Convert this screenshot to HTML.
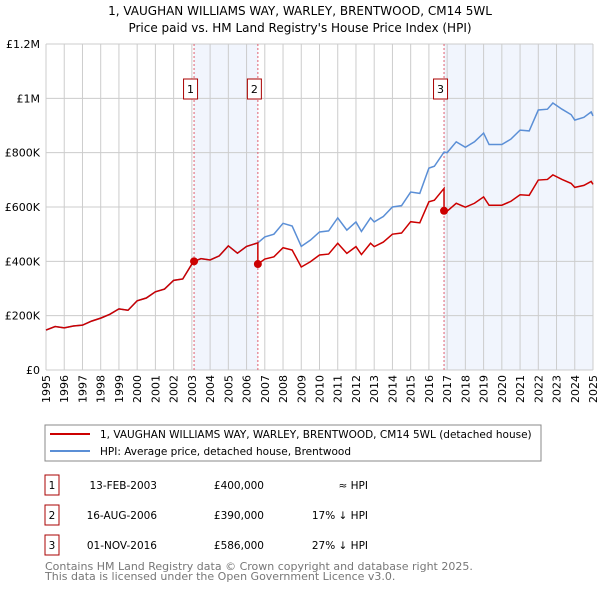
<!DOCTYPE html>
<html><head><meta charset="utf-8">
<style>
body{margin:0;background:#fff;width:600px;height:590px;overflow:hidden;font-family:"DejaVu Sans","Liberation Sans",sans-serif;}
svg text{font-family:"DejaVu Sans","Liberation Sans",sans-serif;}
</style></head>
<body>
<svg id="chart" width="600" height="590" xmlns="http://www.w3.org/2000/svg">
<text x="300" y="15" text-anchor="middle" font-size="12" fill="#000">1, VAUGHAN WILLIAMS WAY, WARLEY, BRENTWOOD, CM14 5WL</text>
<text x="300" y="32" text-anchor="middle" font-size="12" fill="#000">Price paid vs. HM Land Registry's House Price Index (HPI)</text>
<g id="plot"></g>
<rect x="45" y="425" width="496" height="36" fill="#fff" stroke="#888"/>
<line x1="50" y1="434" x2="90" y2="434" stroke="#cc0000" stroke-width="2"/>
<text x="100" y="438" font-size="10.5">1, VAUGHAN WILLIAMS WAY, WARLEY, BRENTWOOD, CM14 5WL (detached house)</text>
<line x1="50" y1="451" x2="90" y2="451" stroke="#5b8fd6" stroke-width="2"/>
<text x="100" y="455" font-size="10.5">HPI: Average price, detached house, Brentwood</text>
<g id="table"></g>
<text x="45" y="570" font-size="11" fill="#777">Contains HM Land Registry data © Crown copyright and database right 2025.</text>
<text x="45" y="580" font-size="11" fill="#777">This data is licensed under the Open Government Licence v3.0.</text>
</svg>
<script>
const hpiYears=[1995,1995.5,1996,1996.5,1997,1997.5,1998,1998.5,1999,1999.5,2000,2000.5,2001,2001.5,2002,2002.5,2003,2003.12,2003.5,2004,2004.5,2005,2005.5,2006,2006.62,2007,2007.5,2008,2008.5,2009,2009.5,2010,2010.5,2011,2011.5,2012,2012.3,2012.8,2013,2013.5,2014,2014.5,2015,2015.5,2016,2016.3,2016.83,2017,2017.5,2018,2018.5,2019,2019.3,2020,2020.5,2021,2021.5,2022,2022.5,2022.8,2023.3,2023.8,2024,2024.5,2024.9,2025];
const hpiValues=[147,160,155,162,165,180,191,205,225,220,255,265,288,298,330,335,390,400,410,405,420,457,430,455,468,490,500,540,530,455,478,508,512,560,515,545,510,560,545,565,600,605,655,650,743,750,802,800,840,820,840,872,830,830,850,883,880,957,960,983,960,940,920,930,950,935].map(v=>v*1000);
const saleDates=[2003.12,2006.62,2016.83];
const salePrices=[400000,390000,586000];
const saleLabels=["13-FEB-2003","16-AUG-2006","01-NOV-2016"];
const salePrintedPrices=["£400,000","£390,000","£586,000"];
const saleHpiDiffs=["≈ HPI","17% ↓ HPI","27% ↓ HPI"];
const yTicks=[0,200000,400000,600000,800000,1000000,1200000];
const yTickLabels=["£0","£200K","£400K","£600K","£800K","£1M","£1.2M"];
const xTicks=[1995,1996,1997,1998,1999,2000,2001,2002,2003,2004,2005,2006,2007,2008,2009,2010,2011,2012,2013,2014,2015,2016,2017,2018,2019,2020,2021,2022,2023,2024,2025];

const X0=46,X1=593,Y0=370,Y1=44;
const xs=t=>X0+(t-1995)/30*(X1-X0);
const ys=v=>Y0-v/1200000*(Y0-Y1);
const NS="http://www.w3.org/2000/svg";
const g=document.getElementById('plot');
function mk(tag,attrs,parent){const e=document.createElementNS(NS,tag);for(const k in attrs)e.setAttribute(k,attrs[k]);(parent||g).appendChild(e);return e;}
function hpiAt(t){for(let i=0;i<hpiYears.length-1;i++){if(t>=hpiYears[i]&&t<=hpiYears[i+1]){const f=(t-hpiYears[i])/(hpiYears[i+1]-hpiYears[i]);return hpiValues[i]+f*(hpiValues[i+1]-hpiValues[i]);}}return hpiValues[hpiValues.length-1];}

let s=mk('rect',{x:xs(saleDates[0]),y:Y1,width:xs(saleDates[1])-xs(saleDates[0]),height:Y0-Y1,fill:'#eef2fc',opacity:0.8});


s=mk('rect',{x:xs(saleDates[2]),y:Y1,width:X1-xs(saleDates[2]),height:Y0-Y1,fill:'#eef2fc',opacity:0.8});



xTicks.forEach((t,i)=>{
  const l=mk('line',{x1:xs(t),x2:xs(t),y1:Y1,y2:Y0,stroke:'#ccc','stroke-width':1});
  
  
  const x=xs(t),y=Y0+5;
  const tx=mk('text',{x:x+4,y:y,'font-size':11,'text-anchor':'end',transform:`rotate(-90 ${x+4} ${y})`});
  tx.textContent=t;
  
  
});
yTicks.forEach((v,i)=>{
  const l=mk('line',{x1:X0,x2:X1,y1:ys(v),y2:ys(v),stroke:'#ccc','stroke-width':1});
  
  
  const tx=mk('text',{x:40,y:ys(v)+4,'font-size':11,'text-anchor':'end'});
  tx.textContent=yTickLabels[i];
  
  
});
let ax=mk('line',{x1:X0,x2:X1,y1:Y0,y2:Y0,stroke:'#ccc'});



saleDates.forEach((d,i)=>{
  const l=mk('line',{x1:xs(d),x2:xs(d),y1:Y1,y2:Y0,stroke:'#e06070','stroke-width':1,'stroke-dasharray':'2,2'});
  
  
  const b=mk('rect',{x:xs(d)-10.5,y:79,width:14,height:20,fill:'#fff',stroke:'#aa0000'});
  
  
  const t=mk('text',{x:xs(d)-3.5,y:93,'font-size':11,'text-anchor':'middle'});
  t.textContent=String(i+1);
  
  
});
const hpiPts=hpiYears.map((t,i)=>xs(t)+','+ys(hpiValues[i])).join(' ');
let hl=mk('polyline',{points:hpiPts,fill:'none',stroke:'#5b8fd6','stroke-width':1.5});


let pts=[];
hpiYears.forEach((t,i)=>{
  let k=-1;for(let j=0;j<saleDates.length;j++)if(t>=saleDates[j])k=j;
  if(k<0){pts.push([t,hpiValues[i]]);return;}
  const f=salePrices[k]/hpiAt(saleDates[k]);
  pts.push([t,hpiValues[i]*(k===0?1:f)]);
});
let all=[];
pts.forEach(p=>all.push(p));
saleDates.forEach((d,j)=>{
  const prevF=j===0?1:(j===1?1:salePrices[1]/hpiAt(saleDates[1]));
  all.push([d-0.001,hpiAt(d)*prevF]);
  all.push([d,salePrices[j]]);
});
all.sort((a,b)=>a[0]-b[0]);
let pl=mk('polyline',{points:all.map(p=>xs(p[0])+','+ys(p[1])).join(' '),fill:'none',stroke:'#cc0000','stroke-width':1.5});


saleDates.forEach((d,i)=>{
  const c=mk('circle',{cx:xs(d),cy:ys(salePrices[i]),r:4,fill:'#cc0000'});
  
  
});

const tb=document.getElementById('table');
saleDates.forEach((d,i)=>{
  const y=475+i*30;
  const b=mk('rect',{x:45,y:y,width:14,height:20,fill:'#fff',stroke:'#aa0000'},tb);
  
  
  const vals=[[52,String(i+1),'middle'],[157,saleLabels[i],'end'],[264,salePrintedPrices[i],'end'],[368,saleHpiDiffs[i],'end']];
  vals.forEach(v=>{
    const t=mk('text',{x:v[0],y:y+14,'font-size':10.5,'text-anchor':v[2]},tb);
    t.textContent=v[1];
    
    
  });
});
</script>
</body></html>
